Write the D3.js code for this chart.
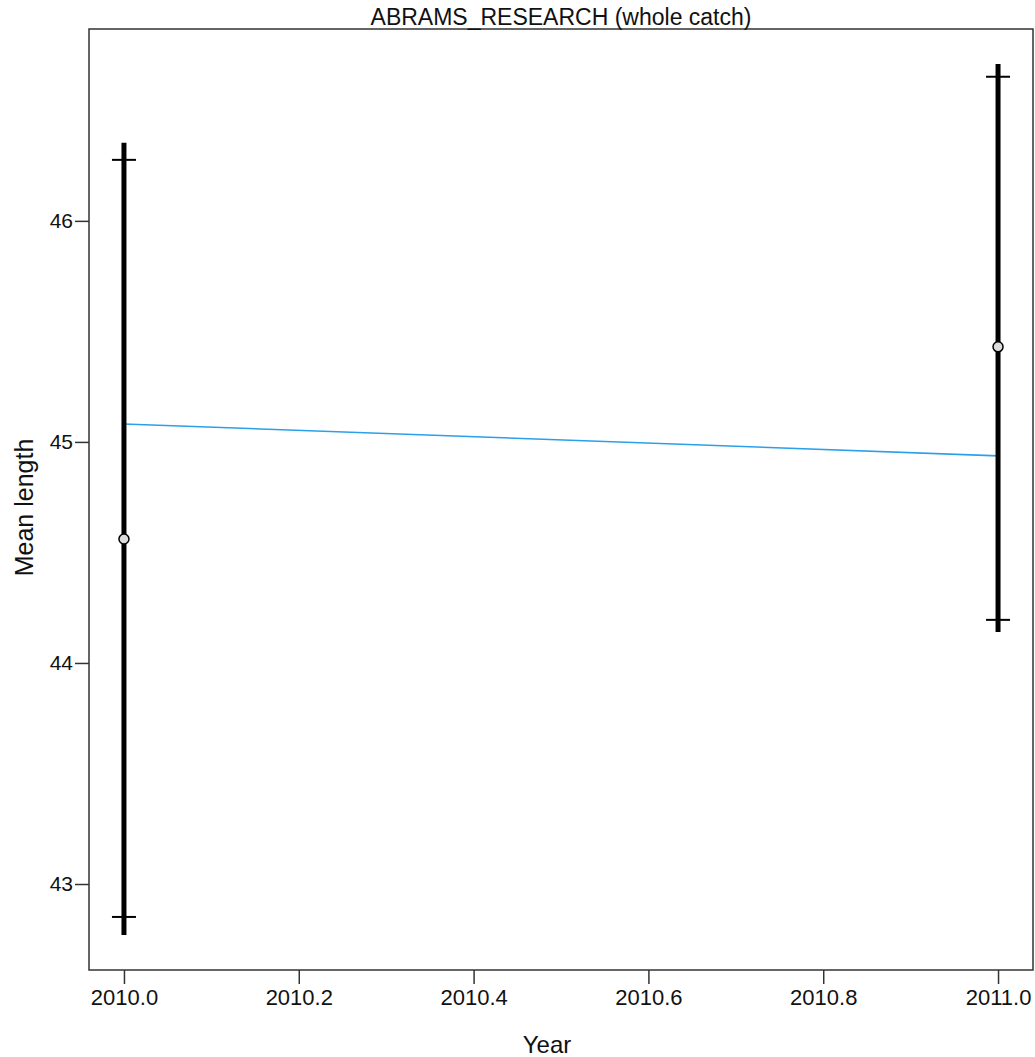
<!DOCTYPE html>
<html><head><meta charset="utf-8">
<script src="https://cdn.jsdelivr.net/npm/d3@7"></script>
<style>body{margin:0;background:#fff}svg{display:block}text{font-family:"Liberation Sans",Arial,sans-serif;fill:#111}</style>
</head><body><svg id="c" width="1035" height="1057"></svg>
<script>
const years = [2010, 2011];
const means = [44.561, 45.430];
const ciLow = [42.851, 44.195];
const ciHigh = [46.276, 46.652];
const barLow = [42.769, 44.140];
const barHigh = [46.353, 46.710];
const fitLine = [45.081, 44.937];
const xTicks = [2010.0, 2010.2, 2010.4, 2010.6, 2010.8, 2011.0];
const yTicks = [43, 44, 45, 46];

const svg = d3.select("#c");
const L = 89, R = 1033, T = 29, B = 970;
const x = d3.scaleLinear().domain([2009.96, 2011.04]).range([L, R]);
const y = d3.scaleLinear().domain([42.611, 46.868]).range([B, T]);

svg.append("rect").attr("x", L).attr("y", T).attr("width", R - L).attr("height", B - T)
  .attr("fill", "none").attr("stroke", "#333").attr("stroke-width", 1.5);

const xa = svg.append("g").attr("transform", `translate(0,${B})`)
  .call(d3.axisBottom(x).tickValues(xTicks).tickFormat(d3.format(".1f")).tickSize(14).tickPadding(5));
const ya = svg.append("g").attr("transform", `translate(${L},0)`)
  .call(d3.axisLeft(y).tickValues(yTicks).tickFormat(d3.format("d")).tickSize(14).tickPadding(2));
[xa, ya].forEach(g => {
  g.select(".domain").remove();
  g.selectAll("line").attr("stroke", "#333").attr("stroke-width", 1.5);
  g.selectAll("text").attr("fill", "#111")
   .attr("font-family", '"Liberation Sans", Arial, sans-serif');
});
xa.selectAll("text").attr("font-size", 22);
ya.selectAll("text").attr("font-size", 21);

// fitted line
svg.append("line").attr("x1", x(years[0])).attr("x2", x(years[1]))
  .attr("y1", y(fitLine[0])).attr("y2", y(fitLine[1]))
  .attr("stroke", "#2aa0ea").attr("stroke-width", 1.6);

const g = svg.append("g");
years.forEach((yr, i) => {
  g.append("line").attr("x1", x(yr)).attr("x2", x(yr))
    .attr("y1", y(barLow[i])).attr("y2", y(barHigh[i]))
    .attr("stroke", "#000").attr("stroke-width", 5);
  [ciLow[i], ciHigh[i]].forEach(v => {
    g.append("line").attr("x1", x(yr) - 12).attr("x2", x(yr) + 12)
      .attr("y1", y(v)).attr("y2", y(v)).attr("stroke", "#000").attr("stroke-width", 2);
  });
  g.append("circle").attr("cx", x(yr)).attr("cy", y(means[i])).attr("r", 5)
    .attr("fill", "#ddd").attr("stroke", "#000").attr("stroke-width", 1.5);
});

svg.append("text").attr("x", (L + R) / 2).attr("y", 25).attr("text-anchor", "middle")
  .attr("font-size", 23).text("ABRAMS_RESEARCH (whole catch)");
svg.append("text").attr("x", (L + R) / 2 - 14).attr("y", 1053).attr("text-anchor", "middle")
  .attr("font-size", 24).text("Year");
svg.append("text").attr("transform", `translate(33,${(T + B) / 2 + 8}) rotate(-90)`)
  .attr("text-anchor", "middle").attr("font-size", 25).text("Mean length");
</script></body></html>
